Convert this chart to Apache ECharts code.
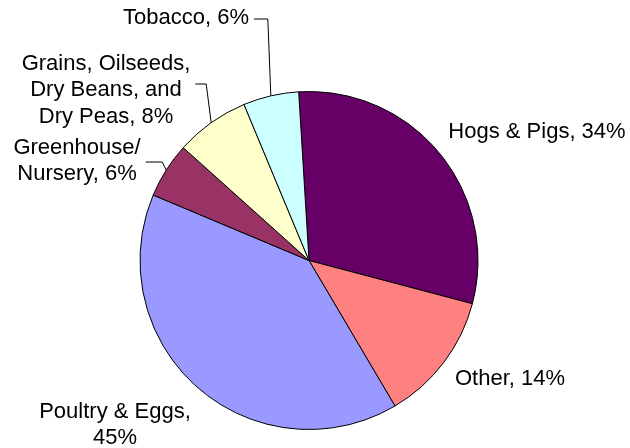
<!DOCTYPE html>
<html>
<head>
<meta charset="utf-8">
<script src="https://cdn.jsdelivr.net/npm/echarts@6/dist/echarts.min.js"></script>
<style>
  html, body { margin: 0; padding: 0; background: #fff; }
  #chart { width: 630px; height: 448px; }
</style>
</head>
<body>
<div id="chart"></div>
<script>
// Share of farm sales by commodity group (clockwise from top)
const categories = [
  'Hogs & Pigs',
  'Other',
  'Poultry & Eggs',
  'Greenhouse/\nNursery',
  'Grains, Oilseeds,\nDry Beans, and\nDry Peas',
  'Tobacco'
];
const shares = [34, 14, 45, 6, 8, 6];
const sliceColors = ['#660066', '#FF8080', '#9999FF', '#993366', '#FFFFCC', '#CCFFFF'];

// Break between name and value in each label
const valueBreaks = [' ', ' ', '\n', ' ', ' ', ' '];
// Label centres and which labels get a leader line
const labelCentres = [[537, 132], [510, 379], [115, 425], [77, 161], [106, 90], [186, 18]];
const hasLeader = [false, false, false, true, true, true];
// Leader line: y of the horizontal run and how far the elbow sits left of the slice point
const leaderY = [0, 0, 0, 162, 84, 19];
const elbowInset = [0, 0, 0, 4, 5, 3];

const chart = echarts.init(document.getElementById('chart'), null, { renderer: 'canvas' });

chart.setOption({
  animation: false,
  backgroundColor: '#ffffff',
  series: [{
    type: 'pie',
    center: [309, 260.5],
    radius: 169,
    startAngle: 93.5,
    clockwise: true,
    avoidLabelOverlap: false,
    itemStyle: { borderColor: '#000', borderWidth: 1 },
    emphasis: { disabled: true },
    label: {
      show: true,
      position: 'outside',
      color: '#000',
      fontFamily: '"Liberation Sans", Arial, sans-serif',
      fontSize: 22,
      lineHeight: 26.5,
      align: 'center',
      formatter: p => p.name + ',' + valueBreaks[p.dataIndex] + p.value + '%'
    },
    labelLine: {
      show: true,
      length: 10,
      length2: 10,
      smooth: false,
      lineStyle: { color: '#000', width: 1 }
    },
    labelLayout: params => {
      const i = params.dataIndex;
      const [cx, cy] = labelCentres[i];
      const out = { x: cx, y: cy, align: 'center', verticalAlign: 'middle' };
      if (hasLeader[i] && params.labelLinePoints) {
        const edge = params.labelLinePoints[0];
        const right = cx + params.labelRect.width / 2;
        out.labelLinePoints = [
          [right + 5, leaderY[i]],
          [edge[0] - elbowInset[i], leaderY[i]],
          [edge[0], edge[1]]
        ];
      }
      return out;
    },
    data: categories.map((name, i) => ({
      name: name,
      value: shares[i],
      itemStyle: { color: sliceColors[i] },
      labelLine: { show: hasLeader[i] }
    }))
  }]
});
</script>
</body>
</html>
